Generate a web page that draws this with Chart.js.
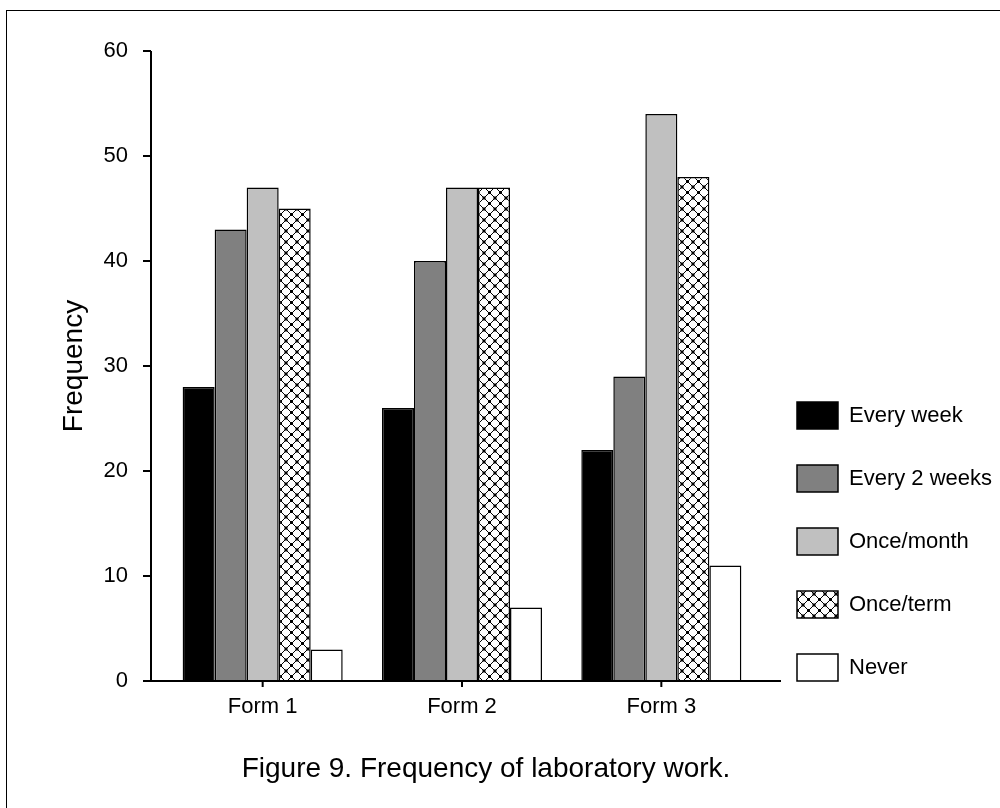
<!DOCTYPE html>
<html><head><meta charset="utf-8">
<script src="https://cdn.jsdelivr.net/npm/chart.js@4.4.1/dist/chart.umd.min.js"></script>
<style>
html,body{margin:0;padding:0;background:#fff;}
#wrap{position:relative;width:1000px;height:808px;overflow:hidden;}
#frame{position:absolute;left:6px;top:10px;right:-5px;bottom:-5px;border-left:1px solid #000;border-top:1px solid #000;}
#caption{position:absolute;left:0;width:972px;top:752px;line-height:32px;text-align:center;font-family:"Liberation Sans",Arial,sans-serif;font-size:28px;color:#000;}
canvas{position:absolute;left:0;top:0;}
</style></head><body>
<div id="wrap"><div id="frame"></div><canvas id="c" width="1000" height="808"></canvas><div id="caption">Figure 9. Frequency of laboratory work.</div></div>
<script>
const categories = ['Form 1', 'Form 2', 'Form 3'];
const seriesNames = ['Every week', 'Every 2 weeks', 'Once/month', 'Once/term', 'Never'];
const everyWeek = [28, 26, 22];
const every2Weeks = [43, 40, 29];
const onceMonth = [47, 47, 54];
const onceTerm = [45, 47, 48];
const never = [3, 7, 11];
const yTicks = [0, 10, 20, 30, 40, 50, 60];
const yTitle = 'Frequency';

function makePattern() {
  const s = 11;
  const c = document.createElement('canvas');
  c.width = s; c.height = s;
  const g = c.getContext('2d');
  g.fillStyle = '#fff'; g.fillRect(0, 0, s, s);
  g.strokeStyle = '#000'; g.lineWidth = 1;
  g.beginPath();
  g.moveTo(0, 0); g.lineTo(s, s);
  g.moveTo(s, 0); g.lineTo(0, s);
  g.stroke();
  g.fillStyle = '#000';
  const h = s / 2;
  g.fillRect(h - 1.5, h - 1.5, 3, 3);
  g.fillRect(-1.5, -1.5, 3, 3); g.fillRect(s - 1.5, -1.5, 3, 3);
  g.fillRect(-1.5, s - 1.5, 3, 3); g.fillRect(s - 1.5, s - 1.5, 3, 3);
  return g.createPattern(c, 'repeat');
}

const FONT = '"Liberation Sans", Arial, sans-serif';
Chart.defaults.font.family = FONT;
Chart.defaults.color = '#000';

const fills = ['#000000', '#808080', '#c0c0c0', makePattern(), '#ffffff'];
const values = [everyWeek, every2Weeks, onceMonth, onceTerm, never];

const axesPlugin = {
  id: 'axesLines',
  afterDatasetsDraw(chart) {
    const { ctx, chartArea, scales: { x, y } } = chart;
    const axisX = chartArea.left - 12;
    const y0 = y.getPixelForValue(0);
    const yT = y.getPixelForValue(yTicks[yTicks.length - 1]);
    ctx.save();
    ctx.strokeStyle = '#000';
    ctx.lineWidth = 2;
    ctx.beginPath();
    ctx.moveTo(axisX, yT); ctx.lineTo(axisX, y0);
    ctx.moveTo(axisX - 8, y0); ctx.lineTo(chartArea.right + 20, y0);
    yTicks.forEach(v => { const p = Math.round(y.getPixelForValue(v)); ctx.moveTo(axisX - 8, p); ctx.lineTo(axisX, p); });
    categories.forEach((c, i) => { const p = x.getPixelForValue(i); ctx.moveTo(p, y0); ctx.lineTo(p, y0 + 6); });
    ctx.stroke();
    ctx.restore();
  }
};

new Chart(document.getElementById('c'), {
  type: 'bar',
  data: {
    labels: categories,
    datasets: seriesNames.map((n, i) => ({
      label: n,
      data: values[i],
      backgroundColor: fills[i],
      borderColor: '#000',
      borderWidth: 1.5,
      categoryPercentage: 0.803,
      barPercentage: 1
    }))
  },
  options: {
    responsive: false,
    animation: false,
    devicePixelRatio: 1,
    layout: { padding: { left: 57, top: 51, right: 0, bottom: 91 } },
    plugins: {
      tooltip: { enabled: false },
      legend: {
        position: 'right', align: 'end', fullSize: true, maxWidth: 239,
        labels: { boxWidth: 41, boxHeight: 27, padding: 36, color: '#000', font: { size: 22, family: FONT } }
      }
    },
    scales: {
      x: {
        grid: { display: false }, border: { display: false },
        ticks: { padding: 5, color: '#000', font: { size: 22, family: FONT } },
        afterFit(s) { s.height = 36; }
      },
      y: {
        min: 0, max: 60,
        grid: { display: false }, border: { display: false },
        ticks: { padding: 27, color: '#000', font: { size: 22, family: FONT } },
        afterBuildTicks(s) { s.ticks = yTicks.map(v => ({ value: v })); },
        title: { display: true, text: yTitle, color: '#000', padding: 0, font: { size: 28, family: FONT } },
        afterFit(s) { s.width = 106; }
      }
    }
  },
  plugins: [axesPlugin]
});
</script>
</body></html>
